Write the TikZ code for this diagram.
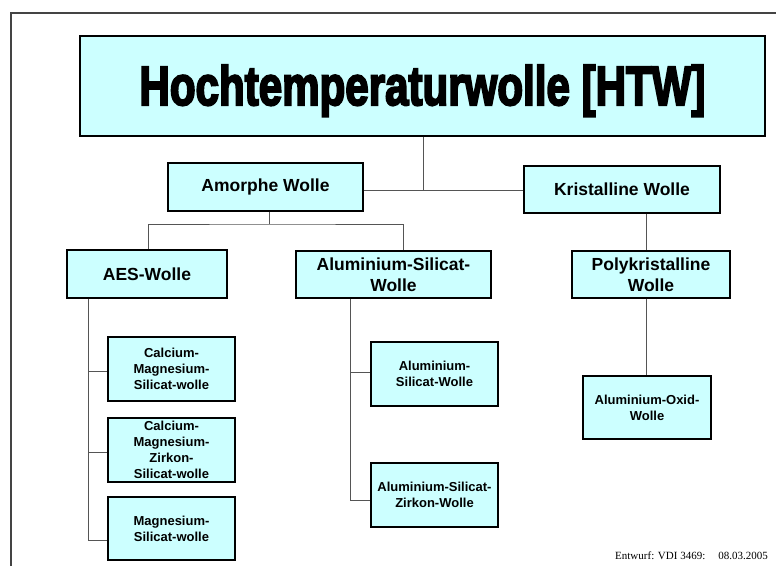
\documentclass[tikz,border=0pt]{standalone}
\usepackage{graphicx}
\usepackage{fontspec}
\setmainfont{Liberation Sans}
\newfontfamily\titlefont{Liberation Sans Bold}[FakeBold=4]
\newfontfamily\footfont{Liberation Serif}
\definecolor{boxfill}{HTML}{CCFFFF}
\definecolor{conncol}{HTML}{555555}
\definecolor{framecol}{HTML}{444444}
\tikzset{
  box/.style={draw=black, line width=1.2pt, fill=boxfill, inner sep=0pt, align=center,
    font=\bfseries\fontsize{17.5}{21}\selectfont},
  smallbox/.style={box, font=\bfseries\fontsize{13}{16}\selectfont},
  conn/.style={draw=conncol, line width=1pt},
  framel/.style={draw=framecol, line width=1.2pt},
  foottext/.style={font=\footfont\fontsize{11}{13}\selectfont, inner sep=0pt}
}
\begin{document}
\begin{tikzpicture}[x=1pt,y=-1pt]
\useasboundingbox (0,0) rectangle (776,566);
\draw[framel] (11,566) -- (11,13) -- (776,13);

% boxes
\node[box, minimum width=685pt, minimum height=100pt] (title) at (422.5,86) {};
\node[anchor=base, inner sep=0pt] (titletext) at (422.5,105)
  {\resizebox{566pt}{40pt}{\titlefont\bfseries Hochtemperaturwolle [HTW]}};

\node[box, minimum width=195pt, minimum height=48pt] (amorph) at (265.5,187) {Amorphe Wolle};
\node[box, minimum width=196pt, minimum height=47pt] (krist) at (622,189.5) {Kristalline Wolle};

\node[box, minimum width=160pt, minimum height=48pt] (aes) at (147,274) {AES-Wolle};
\node[box, minimum width=195pt, minimum height=47pt] (alsil) at (393.5,274.5) {Aluminium-Silicat-\\Wolle};
\node[box, minimum width=158pt, minimum height=47pt] (poly) at (651,274.5) {Polykristalline\\Wolle};

\node[smallbox, minimum width=127pt, minimum height=64pt] (cms) at (171.5,369) {Calcium-\\Magnesium-\\Silicat-wolle};
\node[smallbox, minimum width=127pt, minimum height=64pt] (cmzs) at (171.5,450) {Calcium-\\Magnesium-\\Zirkon-\\Silicat-wolle};
\node[smallbox, minimum width=127pt, minimum height=63pt] (ms) at (171.5,528.5) {Magnesium-\\Silicat-wolle};

\node[smallbox, minimum width=127pt, minimum height=64pt] (as) at (434.5,374) {Aluminium-\\Silicat-Wolle};
\node[smallbox, minimum width=127pt, minimum height=64pt] (asz) at (434.5,495) {Aluminium-Silicat-\\Zirkon-Wolle};

\node[smallbox, minimum width=128pt, minimum height=63pt] (ao) at (647,407.5) {Aluminium-Oxid-\\Wolle};

% junction coordinates
\coordinate (tx) at (423,190);
\coordinate (aj) at (269,224);
\coordinate (xA) at (148,0);
\coordinate (xB) at (403,0);
\coordinate (xK) at (646,0);
\coordinate (b1) at (88,371);
\coordinate (b2) at (88,452);
\coordinate (b3) at (88,540);
\coordinate (c1) at (350,372);
\coordinate (c2) at (350,500);

% connectors
\draw[conn] (title.south -| tx) -- (tx);
\draw[conn] (amorph.east |- tx) -- (krist.west |- tx);
\draw[conn] (amorph.south -| aj) -- (aj);
\draw[conn] (aes.north -| xA) |- (aj) -| (alsil.north -| xB);
\draw[conn] (krist.south -| xK) -- (poly.north -| xK);
\draw[conn] (poly.south -| xK) -- (ao.north -| xK);
\draw[conn] (aes.south -| b3) -- (b3) -- (b3 -| ms.west);
\draw[conn] (b1) -- (b1 -| cms.west);
\draw[conn] (b2) -- (b2 -| cmzs.west);
\draw[conn] (alsil.south -| c2) -- (c2) -- (c2 -| asz.west);
\draw[conn] (c1) -- (c1 -| as.west);

% footer
\node[foottext, anchor=base west] (foot1) at (615,559) {Entwurf: VDI 3469:};
\node[foottext, anchor=base east] (foot2) at (768,559) {08.03.2005};
\end{tikzpicture}
\end{document}
